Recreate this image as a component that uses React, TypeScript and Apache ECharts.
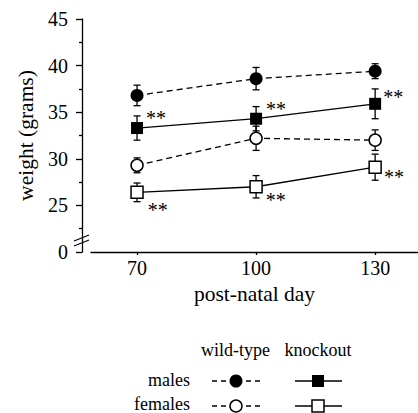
import React, { useEffect, useRef } from 'react';
import * as echarts from 'echarts';

const days = [70, 100, 130];
const wtMales = [36.8, 38.6, 39.4];
const wtMalesErr = [1.1, 1.2, 0.8];
const koMales = [33.3, 34.3, 35.9];
const koMalesErr = [1.3, 1.3, 1.6];
const wtFemales = [29.3, 32.2, 32.0];
const wtFemalesErr = [0.8, 1.3, 1.1];
const koFemales = [26.4, 27.0, 29.1];
const koFemalesErr = [1.0, 1.2, 1.4];
const yTickLabels: Record<number, string> = { 20: '0', 25: '25', 30: '30', 35: '35', 40: '40', 45: '45' };
const starText = '**';
const koMalesStarOffset = [[1, -10.5], [2, -9.5], [0, -6.5]];
const koFemalesStarOffset = [[2, 17.8], [1, 12.8], [0, 10.2]];

const FONT = 'Liberation Serif';
const BLACK = '#000';

function errData(vals: number[], errs: number[]) {
  return days.map((d, i) => [d, vals[i] - errs[i], vals[i] + errs[i]]);
}

function lineData(vals: number[], offs?: number[][]) {
  return days.map((d, i) =>
    offs
      ? { value: [d, vals[i]], label: { offset: offs[i] } }
      : { value: [d, vals[i]] }
  );
}

const errorSeries = (vals: number[], errs: number[]) => ({
  type: 'custom',
  z: 1,
  renderItem: (_params: any, api: any) => {
    const x = api.value(0);
    const lo = api.coord([x, api.value(1)]);
    const hi = api.coord([x, api.value(2)]);
    const w = 3.5;
    const st = { stroke: BLACK, lineWidth: 1.3 };
    return {
      type: 'group',
      children: [
        { type: 'line', shape: { x1: lo[0], y1: lo[1], x2: hi[0], y2: hi[1] }, style: st },
        { type: 'line', shape: { x1: lo[0] - w, y1: lo[1], x2: lo[0] + w, y2: lo[1] }, style: st },
        { type: 'line', shape: { x1: hi[0] - w, y1: hi[1], x2: hi[0] + w, y2: hi[1] }, style: st },
      ],
    };
  },
  encode: { x: 0, y: [1, 2] },
  data: errData(vals, errs),
});

const starLabel = {
  show: true,
  formatter: starText,
  position: 'right',
  distance: 2,
  fontSize: 20,
  fontFamily: FONT,
  color: BLACK,
};

export default function App() {
  const ref = useRef<HTMLDivElement>(null);
  useEffect(() => {
    const chart = echarts.init(ref.current!, null, { renderer: 'svg' });
    const legendText = (text: string, x: number, y: number, align: string) => ({
      type: 'text',
      x,
      y,
      style: { text, fill: BLACK, fontSize: 18, fontFamily: FONT, align, verticalAlign: 'middle' },
    });
    const dashSeg = (x1: number, x2: number, y: number) => ({
      type: 'line',
      shape: { x1, y1: y, x2, y2: y },
      style: { stroke: BLACK, lineWidth: 1.3, lineDash: [5, 4] },
    });
    const solidSeg = (x1: number, x2: number, y: number) => ({
      type: 'line',
      shape: { x1, y1: y, x2, y2: y },
      style: { stroke: BLACK, lineWidth: 1.3 },
    });
    const option: any = {
      animation: false,
      grid: { left: 91, right: 0, top: 19, bottom: 161, containLabel: false },
      xAxis: {
        type: 'value',
        min: 58.4,
        max: 140.8,
        axisLine: { show: true, onZero: false, lineStyle: { color: BLACK, width: 1.3 } },
        axisTick: { show: true, length: 3, customValues: days, lineStyle: { color: BLACK, width: 1.3 } },
        axisLabel: { customValues: days, fontSize: 20, fontFamily: FONT, color: BLACK, margin: 6 },
        splitLine: { show: false },
        name: 'post-natal day',
        nameLocation: 'middle',
        nameGap: 30,
        nameTextStyle: { fontSize: 21.5, fontFamily: FONT, color: BLACK },
      },
      yAxis: {
        type: 'value',
        min: 20,
        max: 45,
        interval: 5,
        offset: 9,
        axisLine: { show: true, onZero: false, lineStyle: { color: BLACK, width: 1.3 } },
        axisTick: { show: true, length: 6, lineStyle: { color: BLACK, width: 1.3 } },
        minorTick: { show: true, splitNumber: 2, length: 3, lineStyle: { color: BLACK, width: 1.3 } },
        splitLine: { show: false },
        axisLabel: {
          formatter: (v: number) => yTickLabels[v] ?? String(v),
          fontSize: 20,
          fontFamily: FONT,
          color: BLACK,
          margin: 14,
        },
        name: 'weight (grams)',
        nameLocation: 'middle',
        nameGap: 44,
        nameTextStyle: { fontSize: 21.5, fontFamily: FONT, color: BLACK },
      },
      series: [
        errorSeries(wtMales, wtMalesErr),
        errorSeries(koMales, koMalesErr),
        errorSeries(wtFemales, wtFemalesErr),
        errorSeries(koFemales, koFemalesErr),
        {
          name: 'wild-type males',
          type: 'line',
          z: 3,
          symbol: 'circle',
          symbolSize: 13,
          itemStyle: { color: BLACK },
          lineStyle: { color: BLACK, width: 1.3, type: [6, 4] },
          data: lineData(wtMales),
        },
        {
          name: 'knockout males',
          type: 'line',
          z: 3,
          symbol: 'rect',
          symbolSize: 12,
          itemStyle: { color: BLACK },
          lineStyle: { color: BLACK, width: 1.3 },
          label: starLabel,
          data: lineData(koMales, koMalesStarOffset),
        },
        {
          name: 'wild-type females',
          type: 'line',
          z: 3,
          symbol: 'circle',
          symbolSize: 12,
          itemStyle: { color: '#fff', borderColor: BLACK, borderWidth: 1.5 },
          lineStyle: { color: BLACK, width: 1.3, type: [6, 4] },
          data: lineData(wtFemales),
        },
        {
          name: 'knockout females',
          type: 'line',
          z: 3,
          symbol: 'rect',
          symbolSize: 12,
          itemStyle: { color: '#fff', borderColor: BLACK, borderWidth: 1.5 },
          lineStyle: { color: BLACK, width: 1.3 },
          label: starLabel,
          data: lineData(koFemales, koFemalesStarOffset),
        },
      ],
      graphic: [
        { type: 'line', shape: { x1: 74, y1: 241, x2: 89, y2: 235 }, style: { stroke: BLACK, lineWidth: 1.3 } },
        { type: 'line', shape: { x1: 74, y1: 246, x2: 89, y2: 240 }, style: { stroke: BLACK, lineWidth: 1.3 } },
        legendText('wild-type', 235.5, 350, 'center'),
        legendText('knockout', 318, 350, 'center'),
        legendText('males', 190, 380, 'right'),
        legendText('females', 190, 404, 'right'),
        dashSeg(212, 236, 381),
        dashSeg(260, 236, 381),
        { type: 'circle', shape: { cx: 236, cy: 381, r: 6.5 }, style: { fill: BLACK } },
        solidSeg(295, 342, 381),
        { type: 'rect', shape: { x: 312, y: 375, width: 12, height: 12 }, style: { fill: BLACK } },
        dashSeg(212, 236, 406),
        dashSeg(260, 236, 406),
        { type: 'circle', shape: { cx: 236, cy: 406, r: 6 }, style: { fill: '#fff', stroke: BLACK, lineWidth: 1.5 } },
        solidSeg(295, 342, 406),
        { type: 'rect', shape: { x: 312, y: 400, width: 12, height: 12 }, style: { fill: '#fff', stroke: BLACK, lineWidth: 1.5 } },
      ],
    };
    chart.setOption(option);
    return () => chart.dispose();
  }, []);
  return <div ref={ref} style={{ position: 'fixed', left: 0, top: 0, width: 418, height: 413, background: '#fff' }} />;
}
